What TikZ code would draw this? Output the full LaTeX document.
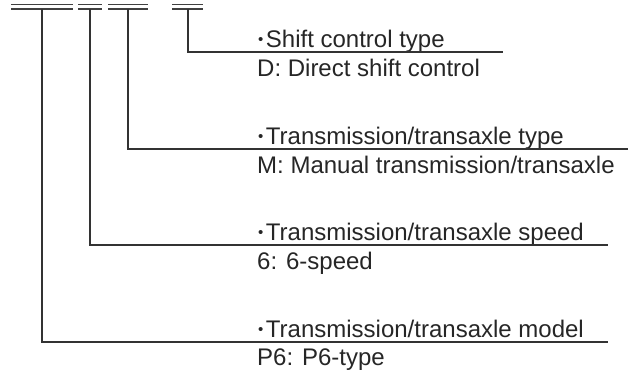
\documentclass[tikz,border=0pt]{standalone}
\usepackage{fontspec}
\setmainfont{Liberation Sans}
\usetikzlibrary{positioning,calc}
\newcommand\bul{{\fontsize{15}{15}\selectfont\raisebox{3pt}{•}}\hspace{2.5pt}}

\begin{document}
\begin{tikzpicture}[
    x=1pt, y=-1pt,
    font=\fontsize{24}{28}\selectfont,
    txt/.style={anchor=base west, inner sep=0pt, text=black!85},
    bar/.style={draw, black!75, line width=1.4pt},
    lead/.style={draw, black!80, line width=1.2pt},
  ]
  \useasboundingbox (0,0) rectangle (629,373);

  % code bars
  \coordinate (b1l) at (11,0);  \coordinate (b1r) at (73,0);
  \coordinate (b2l) at (78,0);  \coordinate (b2r) at (102,0);
  \coordinate (b3l) at (108,0); \coordinate (b3r) at (148,0);
  \coordinate (b4l) at (172,0); \coordinate (b4r) at (203,0);
  \foreach \b in {1,2,3,4} {
    \draw[bar] ($(b\b l)+(0,4.3)$) -- ($(b\b r)+(0,4.3)$);
    \draw[bar] ($(b\b l)+(0,9)$) -- ($(b\b r)+(0,9)$);
  }

  % labels
  \node[txt] (shift) at (258,47) {\bul Shift control type};
  \node[txt] (shiftv) at (257,76) {D: Direct shift control};
  \node[txt] (type) at (258,144) {\bul Transmission/transaxle type};
  \node[txt] (typev) at (257,173) {M: Manual transmission/transaxle};
  \node[txt] (speed) at (258,240) {\bul Transmission/transaxle speed};
  \node[txt] (speedv) at (257,269) {6: 6-speed};
  \node[txt] (model) at (258,337) {\bul Transmission/transaxle model};
  \node[txt] (modelv) at (257,365) {P6: P6-type};

  % leaders
  \coordinate (s4) at (188,9);  \coordinate (e4) at (503,52);
  \coordinate (s3) at (128,9);  \coordinate (e3) at (628,149);
  \coordinate (s2) at (90,9);   \coordinate (e2) at (608,245);
  \coordinate (s1) at (42,9);   \coordinate (e1) at (608,342);
  \foreach \i in {1,2,3,4}
    \draw[lead] (s\i) |- (e\i);
\end{tikzpicture}
\end{document}
